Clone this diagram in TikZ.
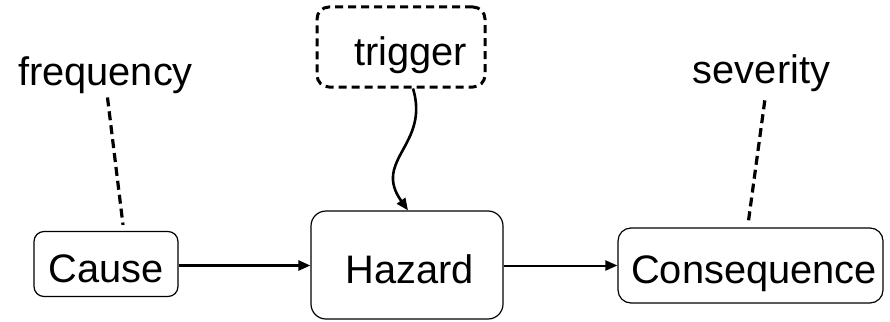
\documentclass[tikz,border=0pt]{standalone}
\usepackage{fontspec}
\setmainfont{Liberation Sans}
\usetikzlibrary{arrows.meta}
\begin{document}
\begin{tikzpicture}[x=1pt,y=-1pt,
  bigfont/.style={font=\fontsize{39.8}{48}\selectfont},
  box/.style={draw, line width=1.2pt, rounded corners=#1, inner sep=0pt,
    text height=36pt, text depth=0pt, bigfont},
  box/.default=12pt,
  lbl/.style={inner sep=0pt, anchor=base, bigfont},
  dashline/.style={line width=3.2pt, dash pattern=on 9pt off 5pt},
  arr/.style={-{Triangle[length=12pt,width=10pt]}}
]
\useasboundingbox (0,0) rectangle (890,321);

\node[box=10pt, minimum width=144pt, minimum height=65pt] (cause) at (106,264) {Cause};
\node[box=15pt, minimum width=192pt, minimum height=108pt] (hazard) at (407,265) {\hspace*{5pt}Hazard};
\node[box=13pt, minimum width=265pt, minimum height=75pt] (conseq) at (750.5,265.5) {\hspace*{7pt}Consequence};
\node[box=12pt, minimum width=168pt, minimum height=80pt, line width=3pt, dash pattern=on 8pt off 5pt] (trig) at (401,47) {\hspace*{19pt}trigger};

\node[lbl] (freq) at (105.5,85) {frequency};
\node[lbl] (sev) at (761.5,83) {severity};

\draw[arr, line width=2.6pt] (cause.east |- 0,265.5) -- (hazard.west |- 0,265.5);
\draw[arr, line width=2pt] (hazard.east |- 0,265.5) -- (conseq.west |- 0,265.5);

\draw[arr, line width=2.6pt] ([xshift=12pt]trig.south) .. controls (430,145) and (372,160) .. ([xshift=1pt]hazard.north);

\draw[dashline, shorten <=4pt] ([xshift=1.5pt]freq.south) -- ([xshift=17pt,yshift=6pt]cause.north);
\draw[dashline, shorten <=9pt] ([xshift=4.5pt]sev.south) -- ([xshift=-2.5pt,yshift=3pt]conseq.north);
\end{tikzpicture}
\end{document}
